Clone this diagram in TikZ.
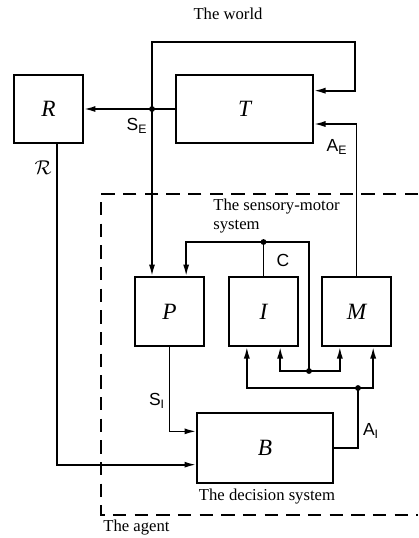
\documentclass[tikz,border=0pt]{standalone}
\usepackage{fontspec}
\setmainfont{Liberation Serif}
\setsansfont{Liberation Sans}
\usetikzlibrary{arrows.meta}

\begin{document}
\begin{tikzpicture}[x=0.6pt,y=-0.6pt,
  blk/.style={draw,line width=1pt,inner sep=0pt,font=\fontsize{14}{16}\selectfont\itshape},
  arr/.style={-{Latex[length=7pt,width=3.6pt]}},
  wire/.style={line width=1pt},
  lbl/.style={font=\sffamily\fontsize{10.5}{12}\selectfont,inner sep=0pt},
  captxt/.style={font=\fontsize{10}{11}\selectfont,inner sep=0pt},
  dot/.style={circle,fill,inner sep=0pt,minimum size=3.5pt}]
  \useasboundingbox (0,0) rectangle (418,538);

  \node[blk,minimum width=41.4pt,minimum height=40.8pt] (R) at (48.5,109) {R};
  \node[blk,minimum width=82.2pt,minimum height=40.8pt] (T) at (244.5,109) {T};
  \node[blk,minimum width=41.4pt,minimum height=41.4pt] (P) at (169.5,311.5) {P};
  \node[blk,minimum width=41.4pt,minimum height=41.4pt] (I) at (263.5,311.5) {I};
  \node[blk,minimum width=41.4pt,minimum height=41.4pt] (M) at (356.5,311.5) {M};
  \node[blk,minimum width=81.6pt,minimum height=42pt] (B) at (265,448) {B};

  \coordinate (se) at (152,109);
  \coordinate (tl) at (152,42);
  \coordinate (tr) at (355,42);
  \coordinate (cj) at (I.north |- 0,242);
  \coordinate (ij) at (309,371);
  \coordinate (oj) at (358,388);

  % the world
  \draw[wire,arr] (T.west) -- (R.east);
  \draw[wire,arr] (se) -- (tl) -- (tr) |- ([yshift=11pt]T.east);
  \draw[wire,arr] (M.north) |- ([yshift=-9pt]T.east);
  \draw[wire,arr] (se) -- (se |- P.north);

  % the agent
  \draw[wire] (I.north) -- (cj);
  \draw[wire,arr] (cj) -| ([xshift=10pt]P.north);
  \draw[wire] (cj) -| (ij);
  \draw[wire,arr] (ij) -| ([xshift=10pt]I.south);
  \draw[wire,arr] (ij) -| ([xshift=-10pt]M.south);
  \draw[wire,arr] (oj) -| ([xshift=-10pt]I.south);
  \draw[wire,arr] (oj) -| ([xshift=10pt]M.south);
  \draw[wire] (B.east) -| (oj);
  \draw[wire,arr] (P.south) |- ([yshift=10pt]B.west);
  \draw[wire,arr] ([xshift=5pt]R.south) |- ([yshift=-10pt]B.west);

  \foreach \j in {se,cj,ij,oj} \node[dot] at (\j) {};

  \draw[wire,dash pattern=on 8pt off 5pt] (418,194) -| (101,515) -- (418,515);

  \node[captxt] (world) at (228,14) {The world};
  \node[captxt,align=left,anchor=north west] (sms) at (213,199) {The sensory-motor\\system};
  \node[captxt] (dec) at (267,497) {The decision system};
  \node[captxt,anchor=west] (agent) at (103,528) {The agent};

  \node[lbl] (lse) at (137,126) {S\textsubscript{E}};
  \node[lbl] (lae) at (337,147) {A\textsubscript{E}};
  \node[lbl] (lc) at (283,260) {C};
  \node[lbl] (lsi) at (157,401) {S\textsubscript{I}};
  \node[lbl] (lai) at (371,431) {A\textsubscript{I}};
  \node[inner sep=0pt,font=\large] (lr) at (43,168) {$\mathcal{R}$};
\end{tikzpicture}
\end{document}
